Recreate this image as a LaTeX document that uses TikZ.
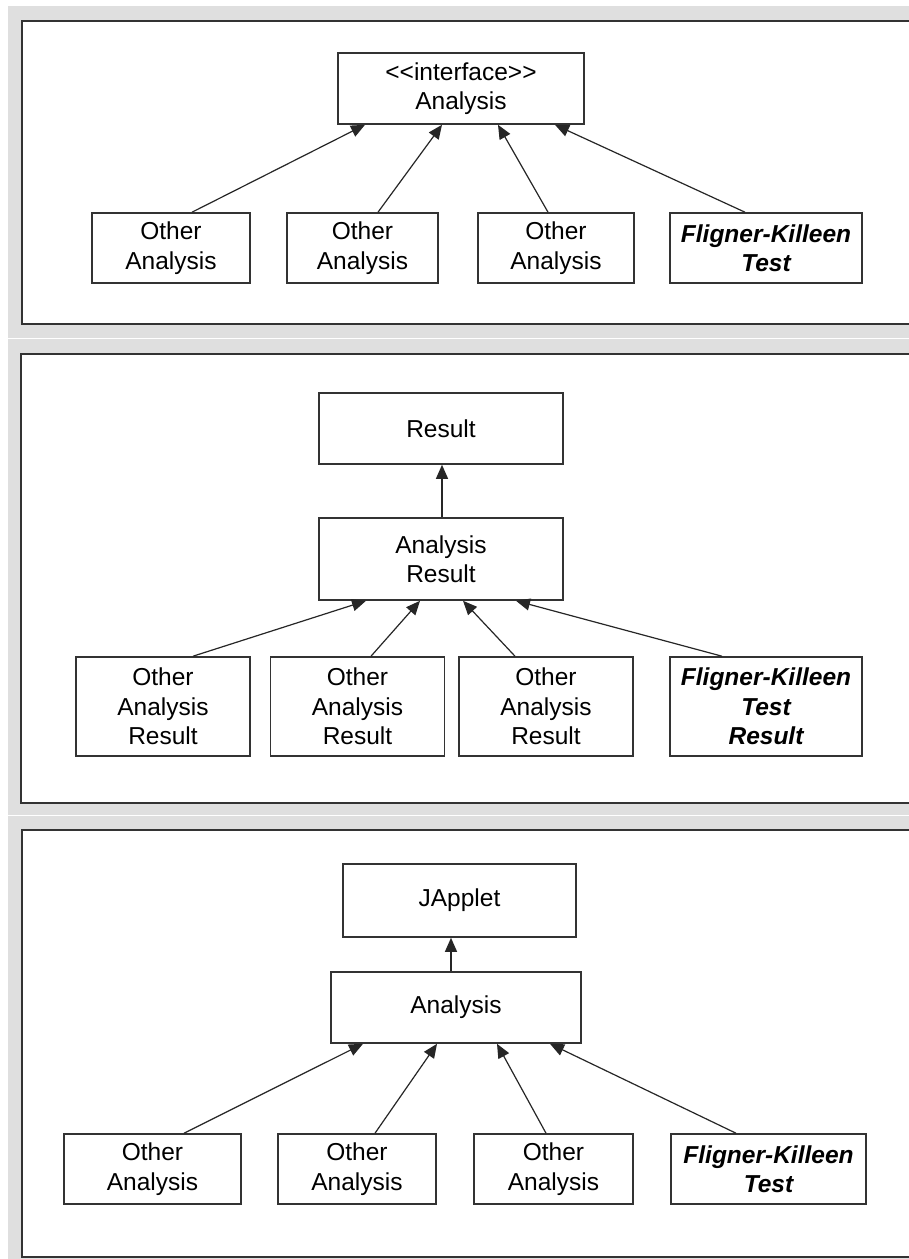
\documentclass[tikz,border=0pt]{standalone}
\usepackage{fontspec}
\setmainfont{Liberation Sans}
\usetikzlibrary{arrows.meta}
\definecolor{bggray}{HTML}{DFDFDF}
\definecolor{edge}{HTML}{333333}
\begin{document}
\begin{tikzpicture}[x=1pt,y=-1pt,
  cls/.style={draw=edge,line width=1.6pt,fill=white,align=center,inner sep=0pt,
    font=\fontsize{24.5}{29.5}\selectfont},
  fk/.style={cls,font=\fontsize{24.5}{29.5}\selectfont\bfseries\itshape},
  arr/.style={draw=black!85,line width=1.2pt,-{Triangle[length=14pt,width=12pt]}},
  panel/.style={draw=edge,line width=2pt,fill=white}]
\useasboundingbox (0,0) rectangle (909,1259);
\clip (0,0) rectangle (909,1259);
\fill[white] (0,0) rectangle (909,1259);
\fill[bggray] (8,6) rectangle (912,1262);
\fill[white] (8,337.5) rectangle (912,339);
\fill[white] (8,814.5) rectangle (912,816);
\draw[panel] (22,21) rectangle (915,324);
\draw[panel] (21,354) rectangle (915,803);
\draw[panel] (22,830) rectangle (915,1257);

% ---------- panel 1 ----------
\node[cls,minimum width=246pt,minimum height=71pt] (iface) at (461,88.5) {<\kern0pt<interface>\kern0pt>\\Analysis};
\node[cls,minimum width=158pt,minimum height=70pt] (b1) at (171,248) {Other\\Analysis};
\node[cls,minimum width=151pt,minimum height=70pt] (b2) at (362.5,248) {Other\\Analysis};
\node[cls,minimum width=156pt,minimum height=70pt] (b3) at (556,248) {Other\\Analysis};
\node[fk,minimum width=192pt,minimum height=70pt] (b4) at (766,248) {Fligner-Killeen\\Test};
\draw[arr] ([xshift=21pt]b1.north) -- ([xshift=-96pt]iface.south);
\draw[arr] ([xshift=15.5pt]b2.north) -- ([xshift=-19pt]iface.south);
\draw[arr] ([xshift=-8pt]b3.north) -- ([xshift=37pt]iface.south);
\draw[arr] ([xshift=-21pt]b4.north) -- ([xshift=94pt]iface.south);

% ---------- panel 2 ----------
\node[cls,minimum width=244pt,minimum height=71pt] (res) at (441,428.5) {Result};
\node[cls,minimum width=244pt,minimum height=82pt] (ar) at (441,559) {Analysis\\Result};
\node[cls,minimum width=174pt,minimum height=99pt] (c1) at (163,706.5) {Other\\Analysis\\Result};
\node[cls,minimum width=174pt,minimum height=99pt] (c2) at (357.5,706.5) {Other\\Analysis\\Result};
\node[cls,minimum width=174pt,minimum height=99pt] (c3) at (546,706.5) {Other\\Analysis\\Result};
\node[fk,minimum width=192.5pt,minimum height=99pt] (c4) at (766,706.5) {Fligner-Killeen\\Test\\Result};
\draw[arr] ([xshift=1pt]ar.north) -- ([xshift=1pt]res.south);
\draw[arr] ([xshift=30pt]c1.north) -- ([xshift=-75pt]ar.south);
\draw[arr] ([xshift=13.5pt]c2.north) -- ([xshift=-21pt]ar.south);
\draw[arr] ([xshift=-31pt]c3.north) -- ([xshift=22pt]ar.south);
\draw[arr] ([xshift=-44pt]c4.north) -- ([xshift=75pt]ar.south);

% ---------- panel 3 ----------
\node[cls,minimum width=233pt,minimum height=73pt] (japp) at (459.5,900.5) {JApplet};
\node[cls,minimum width=249.5pt,minimum height=71pt] (an) at (456,1007.5) {Analysis};
\node[cls,minimum width=177pt,minimum height=70pt] (d1) at (152.5,1169) {Other\\Analysis};
\node[cls,minimum width=158pt,minimum height=70pt] (d2) at (357,1169) {Other\\Analysis};
\node[cls,minimum width=159pt,minimum height=70pt] (d3) at (553.5,1169) {Other\\Analysis};
\node[fk,minimum width=195pt,minimum height=70pt] (d4) at (768.5,1169) {Fligner-Killeen\\Test};
\draw[arr] ([xshift=-5pt]an.north) -- ([xshift=-8.5pt]japp.south);
\draw[arr] ([xshift=31.5pt]d1.north) -- ([xshift=-93pt]an.south);
\draw[arr] ([xshift=18pt]d2.north) -- ([xshift=-19pt]an.south);
\draw[arr] ([xshift=-7.5pt]d3.north) -- ([xshift=41pt]an.south);
\draw[arr] ([xshift=-32.5pt]d4.north) -- ([xshift=94pt]an.south);
\end{tikzpicture}
\end{document}
